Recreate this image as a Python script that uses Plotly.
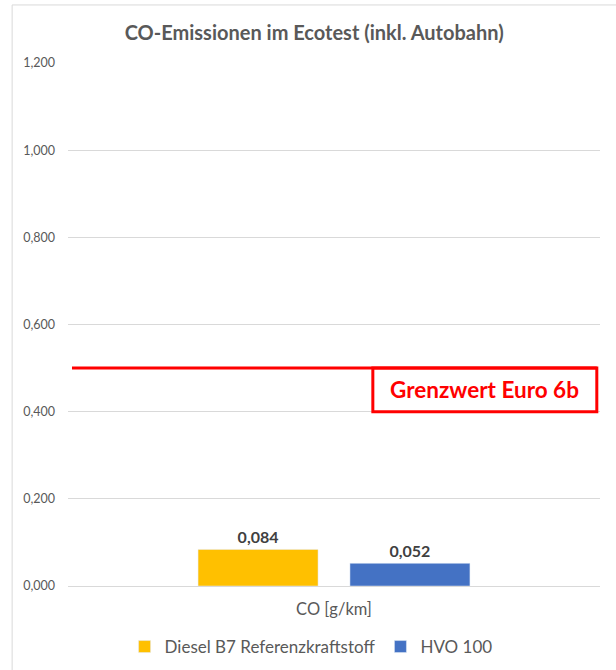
import plotly.graph_objects as go

# Ecotest CO emissions, g/km
category = ["CO [g/km]"]
series_names = ["Diesel B7 Referenzkraftstoff", "HVO 100"]
series_values = [[0.084], [0.052]]
series_colors = ["#FFC000", "#4472C4"]
limit_value = 0.5
limit_label = "Grenzwert Euro 6b"
y_ticks = [0.0, 0.2, 0.4, 0.6, 0.8, 1.0, 1.2]

FONT = "Lato"

fig = go.Figure()
for name, vals, col in zip(series_names, series_values, series_colors):
    fig.add_trace(go.Bar(
        x=category, y=vals, name=name, marker_color=col,
        texttemplate="<b>%{y:.3f}</b>", textposition="outside",
        textfont=dict(family=FONT, size=16, color="#404040"),
        cliponaxis=False,
    ))

# Euro 6b limit line with labelled box
box_x0, box_x1 = 0.573, 0.994
fig.add_shape(type="line", xref="paper", yref="y", x0=0.0075, x1=box_x1,
              y0=limit_value, y1=limit_value, line=dict(color="#FF0000", width=3))
fig.add_shape(type="rect", xref="paper", yref="y", x0=box_x0, x1=box_x1,
              y0=0.4, y1=limit_value, line=dict(color="#FF0000", width=3),
              fillcolor="rgba(0,0,0,0)")
fig.add_annotation(xref="paper", yref="y", x=(box_x0 + box_x1) / 2, y=0.45,
                   xanchor="center", yanchor="middle",
                   text="<b>" + limit_label + "</b>", showarrow=False,
                   font=dict(family=FONT, size=22.5, color="#FF0000"))

# chart frame
fig.add_shape(type="rect", xref="paper", yref="paper", x0=-0.105, x1=1.04,
              y0=-0.2, y1=1.111, line=dict(color="#D9D9D9", width=1), layer="below")

fig.update_layout(
    width=616, height=670,
    margin=dict(l=68, r=16, t=63, b=84, autoexpand=False),
    paper_bgcolor="white", plot_bgcolor="white",
    separators=",.",
    font=dict(family=FONT, color="#595959"),
    title=dict(text="<b>CO-Emissionen im Ecotest (inkl. Autobahn)</b>",
               x=0.51, xref="container", xanchor="center",
               y=1 - 33 / 670, yanchor="middle",
               font=dict(family=FONT, size=20, color="#595959")),
    barmode="group", bargap=0.429, bargroupgap=0.21,
    showlegend=True,
    legend=dict(orientation="h", x=0.505, xref="container", xanchor="center",
                y=1 - 647 / 670, yref="container", yanchor="middle",
                font=dict(family=FONT, size=17, color="#595959"),
                itemwidth=30, traceorder="normal"),
    xaxis=dict(showgrid=False, showline=False, ticks="", ticklabelstandoff=11,
               automargin=False,
               tickfont=dict(family=FONT, size=16.5, color="#595959")),
    yaxis=dict(range=[0, 1.2], tickvals=y_ticks, tickformat=".3f",
               showgrid=True, gridcolor="#D9D9D9", gridwidth=1,
               zeroline=True, zerolinecolor="#D9D9D9", zerolinewidth=1,
               showline=False, ticks="", ticklabelstandoff=12, automargin=False,
               tickfont=dict(family=FONT, size=12.5, color="#595959")),
)

fig.write_html("out.html")
